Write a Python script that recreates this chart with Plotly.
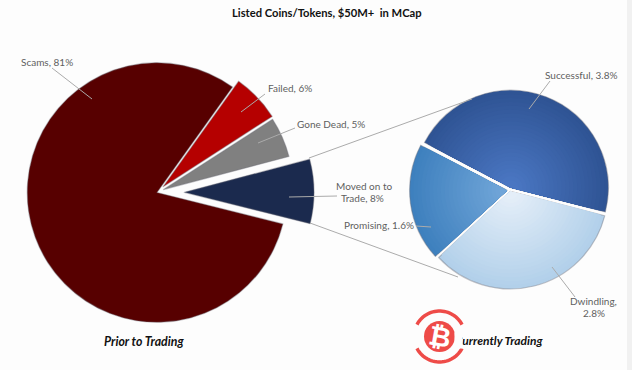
import numpy as np
import plotly.graph_objects as go

W, H = 632, 370

title_text = "Listed Coins/Tokens, $50M+  in MCap"
prior_labels = ["Scams", "Failed", "Gone Dead", "Moved on to Trade"]
prior_values = [81, 6, 5, 8]
prior_colors = ["#570000", "#b50000", "#808080", "#1b2a4e"]
prior_pull = [0, 0.065, 0.055, 0.21]

current_labels = ["Successful", "Dwindling", "Promising"]
current_values = [3.8, 2.8, 1.6]
current_pull = [0.025, 0.015, 0.03]
current_outer = [(47, 84, 148), (178, 208, 234), (62, 128, 190)]
current_inner = [(74, 118, 194), (228, 238, 248), (112, 165, 216)]


def px(x):
    return x / W


def py(y):
    return 1 - y / H


def box(cx, cy, half_w, half_h=None):
    half_h = half_w if half_h is None else half_h
    return dict(x=[px(cx - half_w), px(cx + half_w)], y=[py(cy + half_h), py(cy - half_h)])


fig = go.Figure()

# main pie
fig.add_trace(go.Pie(
    labels=prior_labels, values=prior_values, sort=False, direction="clockwise",
    rotation=104, pull=prior_pull, textinfo="none", hoverinfo="label+value",
    marker=dict(colors=prior_colors, line=dict(color="rgba(110,110,120,0.4)", width=1.2)),
    domain=box(157, 192.5, 157), showlegend=False,
))

# breakdown pie: concentric layers give the shading of the original
R = 97.5
max_pull = max(current_pull)
fractions = list(np.linspace(1, 0.08, 24))
for i, f in enumerate(fractions):
    t = i / (len(fractions) - 1)
    colors = [
        "rgb({},{},{})".format(*[round(a + (b - a) * t) for a, b in zip(o, n)])
        for o, n in zip(current_outer, current_inner)
    ]
    outer = i == 0
    fig.add_trace(go.Pie(
        labels=current_labels, values=current_values, sort=False, direction="clockwise",
        rotation=-62.4, pull=[p / f for p in current_pull], textinfo="none",
        hoverinfo="label+value",
        marker=dict(colors=colors, line=dict(
            color="rgba(110,110,120,0.4)" if outer else "rgba(0,0,0,0)",
            width=1.2 if outer else 0)),
        domain=box(510, 190, R * (f + max_pull)), showlegend=False,
    ))

shapes = []


def line(x0, y0, x1, y1, color="#ababab", width=1):
    shapes.append(dict(type="line", xref="paper", yref="paper", x0=px(x0), y0=py(y0),
                       x1=px(x1), y1=py(y1), line=dict(color=color, width=width)))


# right-hand page edge
shapes.append(dict(type="rect", xref="paper", yref="paper", x0=px(627), x1=1, y0=0, y1=1,
                   fillcolor="#f1f1f1", line=dict(width=0), layer="below"))

# connectors between the pies
line(309, 158, 472, 99)
line(310, 223, 458, 277)
# leader lines
line(52, 68, 92, 99)
line(265, 94, 241, 112)
line(295, 128, 258, 143)
line(337, 196, 289, 197)
line(550, 81, 529, 109)
line(416, 226, 431, 227)
line(575, 297, 552, 267)

# badge
LOGO_X, LOGO_Y = 439.5, 336.5
LOGO_RED = "#ee4b48"
shapes.append(dict(type="circle", xref="paper", yref="paper",
                   x0=px(LOGO_X - 15.5), x1=px(LOGO_X + 15.5),
                   y0=py(LOGO_Y + 15.5), y1=py(LOGO_Y - 15.5),
                   fillcolor=LOGO_RED, line=dict(width=0)))
for centre in (0, 180):
    a = np.radians(np.linspace(centre - 62, centre + 62, 30))
    xs = px(LOGO_X + 25.5 * np.sin(a))
    ys = py(LOGO_Y - 25.5 * np.cos(a))
    path = "M " + " L ".join(f"{x:.5f},{y:.5f}" for x, y in zip(xs, ys))
    shapes.append(dict(type="path", xref="paper", yref="paper", path=path,
                       line=dict(color=LOGO_RED, width=3.5)))

LABEL = dict(family="Lato, Open Sans, sans-serif", size=10, color="#5f5f5f")
annotations = []


def text(s, x, y, font, angle=0, **kw):
    annotations.append(dict(text=s, xref="paper", yref="paper", x=px(x), y=py(y),
                            xanchor="center", yanchor="middle", showarrow=False,
                            font=font, textangle=angle, **kw))


text("Scams, 81%", 47, 62, LABEL)
text("Failed, 6%", 290, 88, LABEL)
text("Gone Dead, 5%", 331, 124, LABEL)
text("Moved on to", 363.5, 186, LABEL)
text("Trade, 8%", 363, 198, LABEL)
text("Promising, 1.6%", 379, 225, LABEL)
text("Successful, 3.8%", 580.5, 75, LABEL)
text("Dwindling,", 593.5, 301, LABEL)
text("2.8%", 594, 313, LABEL)
text("<b>" + title_text + "</b>", 326.5, 12, dict(family="Lato, Open Sans, sans-serif", size=11.2, color="#111111"))
text("<b><i>Prior to Trading</i></b>", 143.5, 341, dict(family="Lato, sans-serif", size=12.3, color="#111111"))
text("<b><i>Currently Trading</i></b>", 498.5, 340, dict(family="Lato, sans-serif", size=12, color="#111111"))
# the badge sits on top of the first letter of the caption
text(" ", 458.5, 340, dict(size=10), width=7, height=15, bgcolor="#fdfdfd", borderpad=0)
text("<b>\u20bf</b>", LOGO_X, LOGO_Y, dict(family="DejaVu Sans, sans-serif", size=27, color="#ffffff"), angle=10)

fig.update_layout(
    width=W, height=H, margin=dict(l=0, r=0, t=0, b=0),
    paper_bgcolor="#fdfdfd", plot_bgcolor="#fdfdfd",
    shapes=shapes, annotations=annotations, showlegend=False,
)
fig.write_html("out.html", post_script="document.body.style.margin='0';",
               config=dict(displayModeBar=False))
